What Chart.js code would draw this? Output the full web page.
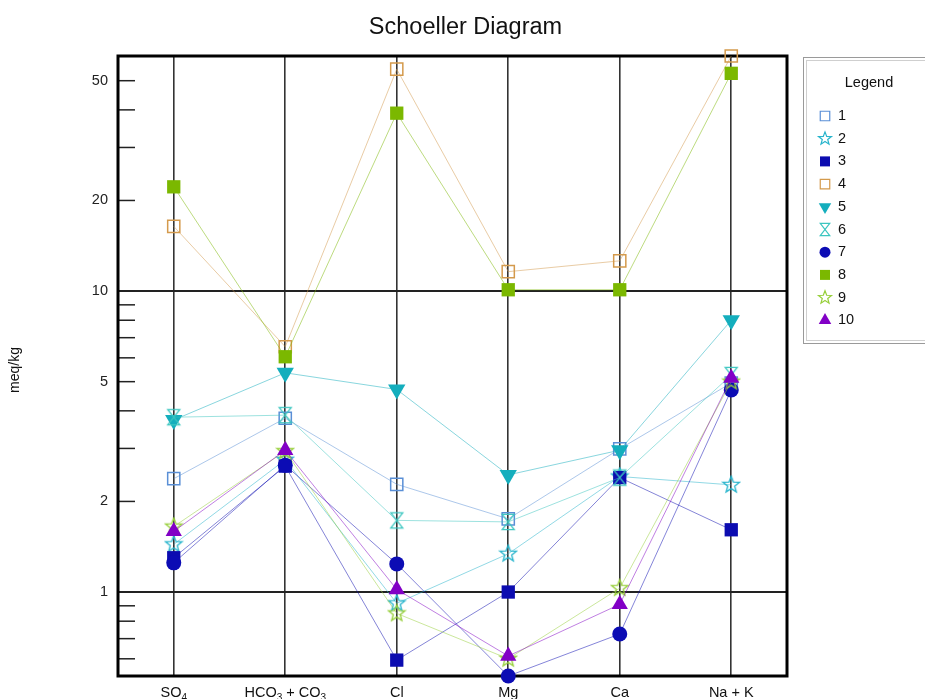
<!DOCTYPE html>
<html><head><meta charset="utf-8">
<script src="https://cdn.jsdelivr.net/npm/chart.js@4.4.1/dist/chart.umd.min.js"></script>
<style>html,body{margin:0;padding:0;background:#fff;overflow:hidden}canvas{display:block}</style>
</head><body>
<canvas id="c" width="925" height="699"></canvas>
<script>
// ---------- data ----------
const categories = ['SO4', 'HCO3 + CO3', 'Cl', 'Mg', 'Ca', 'Na + K'];
const seriesNames = ['1', '2', '3', '4', '5', '6', '7', '8', '9', '10'];
const s1  = [2.38, 3.78, 2.28, 1.75, 2.99, 4.95];
const s2  = [1.44, 2.75, 0.917, 1.34, 2.42, 2.27];
const s3  = [1.30, 2.62, 0.594, 1.00, 2.40, 1.61];
const s4  = [16.4, 6.53, 54.6, 11.6, 12.6, 60.4];
const s5  = [3.73, 5.35, 4.71, 2.45, 2.96, 8.0];
const s6  = [3.81, 3.87, 1.73, 1.71, 2.40, 5.26];
const s7  = [1.25, 2.64, 1.24, 0.526, 0.725, 4.69];
const s8  = [22.2, 6.05, 39.0, 10.1, 10.1, 52.9];
const s9  = [1.65, 2.94, 0.849, 0.60, 1.03, 5.0];
const s10 = [1.59, 2.96, 1.02, 0.613, 0.91, 5.14];
const yTickValues = [0.6, 0.7, 0.8, 0.9, 1, 2, 3, 4, 5, 6, 7, 8, 9, 10, 20, 30, 40, 50];
const yLabelValues = [1, 2, 5, 10, 20, 50];
const yGridValues = [1, 10];
const chartTitle = 'Schoeller Diagram';
const yAxisTitle = 'meq/kg';
const legendTitle = 'Legend';

// ---------- styles ----------
const allSeries = [s1, s2, s3, s4, s5, s6, s7, s8, s9, s10];
const styles = [
  {shape: 'rectOpen',  color: '#5a8fd6'},
  {shape: 'star',      color: '#26b4cc'},
  {shape: 'rect',      color: '#0c0cb0'},
  {shape: 'rectOpen',  color: '#d49a4c'},
  {shape: 'triDown',   color: '#14aebd'},
  {shape: 'hourglass', color: '#3cc6c0'},
  {shape: 'circle',    color: '#0c0cb4'},
  {shape: 'rect',      color: '#7bb800'},
  {shape: 'star',      color: '#97cf3a'},
  {shape: 'triangle',  color: '#8200c6'}
];
const FONT = '"Liberation Sans", Arial, Helvetica, sans-serif';
Chart.defaults.font.family = FONT;

function withAlpha(hex, a) {
  const n = parseInt(hex.slice(1), 16);
  return `rgba(${(n >> 16) & 255},${(n >> 8) & 255},${n & 255},${a})`;
}

function drawShape(ctx, shape, x, y, size, color, lw) {
  ctx.save();
  ctx.fillStyle = color; ctx.strokeStyle = color; ctx.lineWidth = lw;
  ctx.beginPath();
  const s = size;
  switch (shape) {
    case 'rect': ctx.rect(x - s / 2, y - s / 2, s, s); ctx.fill(); break;
    case 'rectOpen': ctx.rect(x - s / 2, y - s / 2, s, s); ctx.stroke(); break;
    case 'circle': ctx.arc(x, y, s / 2, 0, Math.PI * 2); ctx.fill(); break;
    case 'triangle': {
      const r = s / Math.sqrt(3);
      ctx.moveTo(x, y - r); ctx.lineTo(x + s / 2, y + r / 2); ctx.lineTo(x - s / 2, y + r / 2);
      ctx.closePath(); ctx.fill(); break;
    }
    case 'triDown': {
      const r = s / Math.sqrt(3);
      ctx.moveTo(x, y + r); ctx.lineTo(x + s / 2, y - r / 2); ctx.lineTo(x - s / 2, y - r / 2);
      ctx.closePath(); ctx.fill(); break;
    }
    case 'star': {
      const R = s / 1.9, r = R * 0.42;
      for (let k = 0; k < 10; k++) {
        const ang = -Math.PI / 2 + k * Math.PI / 5;
        const rr = k % 2 ? r : R;
        const px = x + Math.cos(ang) * rr, py = y + Math.sin(ang) * rr;
        k ? ctx.lineTo(px, py) : ctx.moveTo(px, py);
      }
      ctx.closePath(); ctx.stroke(); break;
    }
    case 'hourglass': {
      const w = s, h = s * 1.28;
      ctx.moveTo(x - w / 2, y - h / 2); ctx.lineTo(x + w / 2, y - h / 2);
      ctx.lineTo(x - w / 2, y + h / 2); ctx.lineTo(x + w / 2, y + h / 2);
      ctx.closePath(); ctx.stroke(); break;
    }
  }
  ctx.restore();
}

function makeMarker(shape, size, color, lw, cw, ch) {
  const cv = document.createElement('canvas');
  cv.width = cw; cv.height = ch;
  drawShape(cv.getContext('2d'), shape, cw / 2, ch / 2, size, color, lw);
  return cv;
}

function pointConf(st) {
  const c = st.color;
  switch (st.shape) {
    case 'rect': return {pointStyle: 'rect', pointRadius: 9.4, pointBackgroundColor: c, pointBorderColor: c, pointBorderWidth: 0};
    case 'rectOpen': return {pointStyle: 'rect', pointRadius: 8.6, pointBackgroundColor: 'rgba(255,255,255,0)', pointBorderColor: c, pointBorderWidth: 1.5};
    case 'circle': return {pointStyle: 'circle', pointRadius: 7.5, pointBackgroundColor: c, pointBorderColor: c, pointBorderWidth: 0};
    case 'triangle': return {pointStyle: 'triangle', pointRadius: 9.4, pointBackgroundColor: c, pointBorderColor: c, pointBorderWidth: 0};
    case 'triDown': return {pointStyle: 'triangle', pointRotation: 180, pointRadius: 10, pointBackgroundColor: c, pointBorderColor: c, pointBorderWidth: 0};
    case 'star': return {pointStyle: makeMarker('star', 16.5, c, 1.3, 20, 20), pointRadius: 8};
    case 'hourglass': return {pointStyle: makeMarker('hourglass', 12, c, 1.3, 16, 20), pointRadius: 8};
  }
}

const flat = allSeries.flat();
const yMin = Math.min(...flat), yMax = Math.max(...flat);

const datasets = allSeries.map((data, i) => Object.assign({
  label: seriesNames[i],
  data: data,
  borderColor: withAlpha(styles[i].color, 0.5),
  borderWidth: 1,
  fill: false,
  tension: 0,
  clip: false,
  order: allSeries.length - 1 - i
}, pointConf(styles[i])));

function drawSubLabel(ctx, text, cx, baseline, size) {
  const parts = text.split(/(\d+)/).filter(p => p.length);
  const big = `${size}px ${FONT}`, small = `${Math.round(size * 0.7)}px ${FONT}`;
  let total = 0;
  parts.forEach(p => { ctx.font = /^\d+$/.test(p) ? small : big; total += ctx.measureText(p).width; });
  let x = cx - total / 2;
  ctx.textAlign = 'left'; ctx.textBaseline = 'alphabetic';
  parts.forEach(p => {
    const sub = /^\d+$/.test(p);
    ctx.font = sub ? small : big;
    ctx.fillText(p, x, baseline + (sub ? 4 : 0));
    x += ctx.measureText(p).width;
  });
}

const decor = {
  id: 'decor',
  beforeDatasetsDraw(chart) {
    const {ctx, chartArea: a, scales: {y}} = chart;
    ctx.save();
    ctx.strokeStyle = '#222'; ctx.lineWidth = 1.5;
    y.ticks.forEach(t => {
      const py = y.getPixelForValue(t.value);
      ctx.beginPath(); ctx.moveTo(a.left, py); ctx.lineTo(a.left + 17, py); ctx.stroke();
    });
    ctx.lineWidth = 3; ctx.strokeStyle = '#000';
    ctx.strokeRect(a.left, a.top, a.right - a.left, a.bottom - a.top);
    ctx.restore();
  },
  afterDraw(chart) {
    const {ctx, scales: {x}} = chart;
    ctx.save();
    ctx.fillStyle = '#111';
    // title
    ctx.font = `23.5px ${FONT}`; ctx.textAlign = 'center'; ctx.textBaseline = 'alphabetic';
    ctx.fillText(chartTitle, 465.5, 34);
    // y axis title
    ctx.save();
    ctx.translate(15, 370); ctx.rotate(-Math.PI / 2);
    ctx.font = `14px ${FONT}`; ctx.textAlign = 'center'; ctx.textBaseline = 'middle';
    ctx.fillText(yAxisTitle, 0, 0);
    ctx.restore();
    // x labels
    categories.forEach((c, i) => drawSubLabel(ctx, c, x.getPixelForTick(i), 697, 14.5));
    // legend
    ctx.lineWidth = 1;
    ctx.strokeStyle = '#9a9a9a'; ctx.strokeRect(803.5, 57.5, 140, 286);
    ctx.strokeStyle = '#cfcfcf'; ctx.strokeRect(806.5, 60.5, 134, 280);
    ctx.font = `14.5px ${FONT}`; ctx.textAlign = 'center'; ctx.textBaseline = 'middle';
    ctx.fillText(legendTitle, 869, 83);
    ctx.textAlign = 'left';
    const lsize = {rect: 10, rectOpen: 9.5, circle: 11, triangle: 12.5, triDown: 12.5, star: 13, hourglass: 9.5};
    seriesNames.forEach((n, i) => {
      const yy = 116 + i * 22.7;
      const st = styles[i];
      drawShape(ctx, st.shape, 825, yy, lsize[st.shape], st.color, 1.2);
      ctx.fillStyle = '#111';
      ctx.fillText(n, 838, yy);
    });
    ctx.restore();
  }
};

new Chart(document.getElementById('c'), {
  type: 'line',
  data: {labels: categories, datasets},
  options: {
    responsive: false,
    animation: false,
    events: [],
    layout: {padding: {top: 56, right: 138, bottom: 0, left: 0}},
    plugins: {legend: {display: false}, title: {display: false}, tooltip: {enabled: false}},
    scales: {
      x: {
        type: 'category',
        offset: true,
        grid: {offset: false, color: '#333', lineWidth: 1.6, drawTicks: false},
        border: {display: false},
        ticks: {display: false},
        afterFit: s => { s.height = 23; }
      },
      y: {
        type: 'logarithmic',
        min: yMin, max: yMax, bounds: 'data',
        afterBuildTicks: s => { s.ticks = yTickValues.map(v => ({value: v})); },
        grid: {
          color: c => (c.tick && yGridValues.includes(c.tick.value)) ? '#222' : 'rgba(0,0,0,0)',
          lineWidth: 2, drawTicks: false
        },
        border: {display: false},
        ticks: {
          autoSkip: false, padding: 10, color: '#222', font: {size: 14.5},
          callback: v => yLabelValues.includes(v) ? String(v) : ''
        },
        afterFit: s => { s.width = 118; }
      }
    }
  },
  plugins: [decor]
});
</script>
</body></html>
